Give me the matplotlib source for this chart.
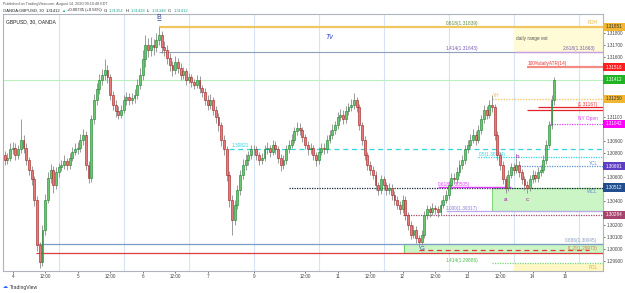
import matplotlib
matplotlib.use("Agg")
import matplotlib.pyplot as plt
import matplotlib.transforms as mtransforms
from matplotlib.patches import Rectangle

plt.rcParams["font.family"] = ["Liberation Sans", "DejaVu Sans"]

# GBPUSD hourly candles, x = trading hours since Aug 4 00:00 (weekend removed)
closes = [
    1.3074, 1.3076, 1.3083, 1.3084, 1.3078, 1.3083, 1.3091, 1.3084, 1.3074, 1.3066,
    1.3058, 1.3041, 1.3003, 1.2989, 1.3016, 1.3041, 1.3059, 1.3066, 1.3053, 1.3064,
    1.3068, 1.3070, 1.3073, 1.3070, 1.3076, 1.3081, 1.3083, 1.3084, 1.3091, 1.3095,
    1.3070, 1.3059, 1.3108, 1.3124, 1.3133, 1.3141, 1.3145, 1.3149, 1.3143, 1.3128,
    1.3120, 1.3115, 1.3112, 1.3116, 1.3124, 1.3127, 1.3124, 1.3126, 1.3128, 1.3137,
    1.3145, 1.3158, 1.3170, 1.3166, 1.3170, 1.3168, 1.3174, 1.3178, 1.3168, 1.3166,
    1.3159, 1.3153, 1.3149, 1.3156, 1.3151, 1.3145, 1.3148, 1.3141, 1.3143, 1.3139,
    1.3137, 1.3141, 1.3134, 1.3131, 1.3124, 1.3120, 1.3124, 1.3116, 1.3110, 1.3103,
    1.3091, 1.3083, 1.3062, 1.3041, 1.3024, 1.3037, 1.3049, 1.3062, 1.3070, 1.3074,
    1.3078, 1.3083, 1.3083, 1.3078, 1.3074, 1.3076, 1.3083, 1.3084, 1.3081, 1.3087,
    1.3083, 1.3076, 1.3070, 1.3074, 1.3083, 1.3087, 1.3091, 1.3098, 1.3101, 1.3099,
    1.3093, 1.3087, 1.3083, 1.3084, 1.3078, 1.3074, 1.3081, 1.3084, 1.3083, 1.3091,
    1.3095, 1.3099, 1.3103, 1.3110, 1.3112, 1.3108, 1.3115, 1.3118, 1.3120, 1.3124,
    1.3118, 1.3103, 1.3091, 1.3078, 1.3070, 1.3066, 1.3062, 1.3053, 1.3049, 1.3058,
    1.3053, 1.3049, 1.3051, 1.3045, 1.3041, 1.3037, 1.3033, 1.3041, 1.3028, 1.3020,
    1.3012, 1.3016, 1.3009, 1.3006, 1.3012, 1.3028, 1.3033, 1.3031, 1.3034, 1.3033,
    1.3031, 1.3037, 1.3041, 1.3045, 1.3053, 1.3059, 1.3058, 1.3064, 1.3070, 1.3074,
    1.3083, 1.3087, 1.3091, 1.3095, 1.3091, 1.3099, 1.3108, 1.3116, 1.3112, 1.3120,
    1.3118, 1.3095, 1.3078, 1.3070, 1.3058, 1.3051, 1.3062, 1.3068, 1.3066, 1.3070,
    1.3064, 1.3058, 1.3053, 1.3051, 1.3058, 1.3062, 1.3059, 1.3064, 1.3066, 1.3074,
    1.3087, 1.3103, 1.3124, 1.3141,
]
highs = [
    1.3082, 1.3080, 1.3088, 1.3089, 1.3088, 1.3087, 1.3108, 1.3095, 1.3088, 1.3077,
    1.3069, 1.3061, 1.3044, 1.3006, 1.3020, 1.3046, 1.3064, 1.3071, 1.3069, 1.3068,
    1.3072, 1.3074, 1.3078, 1.3076, 1.3080, 1.3085, 1.3088, 1.3089, 1.3096, 1.3100,
    1.3098, 1.3073, 1.3112, 1.3129, 1.3138, 1.3146, 1.3150, 1.3158, 1.3153, 1.3146,
    1.3132, 1.3124, 1.3119, 1.3120, 1.3128, 1.3131, 1.3130, 1.3130, 1.3133, 1.3142,
    1.3151, 1.3166, 1.3178, 1.3176, 1.3177, 1.3175, 1.3180, 1.3185, 1.3182, 1.3173,
    1.3170, 1.3163, 1.3157, 1.3161, 1.3159, 1.3155, 1.3152, 1.3151, 1.3147, 1.3146,
    1.3142, 1.3145, 1.3144, 1.3137, 1.3134, 1.3128, 1.3129, 1.3127, 1.3119, 1.3113,
    1.3106, 1.3095, 1.3086, 1.3065, 1.3045, 1.3041, 1.3053, 1.3066, 1.3075, 1.3079,
    1.3082, 1.3087, 1.3087, 1.3086, 1.3081, 1.3080, 1.3087, 1.3089, 1.3087, 1.3091,
    1.3090, 1.3086, 1.3079, 1.3078, 1.3087, 1.3091, 1.3096, 1.3102, 1.3106, 1.3105,
    1.3102, 1.3096, 1.3090, 1.3088, 1.3087, 1.3081, 1.3085, 1.3088, 1.3088, 1.3095,
    1.3099, 1.3104, 1.3107, 1.3114, 1.3117, 1.3116, 1.3119, 1.3122, 1.3125, 1.3130,
    1.3127, 1.3121, 1.3106, 1.3094, 1.3081, 1.3073, 1.3069, 1.3065, 1.3056, 1.3062,
    1.3061, 1.3056, 1.3055, 1.3054, 1.3048, 1.3044, 1.3040, 1.3045, 1.3044, 1.3031,
    1.3023, 1.3020, 1.3019, 1.3012, 1.3016, 1.3032, 1.3037, 1.3036, 1.3038, 1.3037,
    1.3036, 1.3041, 1.3045, 1.3049, 1.3057, 1.3063, 1.3063, 1.3068, 1.3074, 1.3078,
    1.3087, 1.3091, 1.3096, 1.3100, 1.3098, 1.3103, 1.3112, 1.3120, 1.3119, 1.3124,
    1.3128, 1.3121, 1.3098, 1.3081, 1.3073, 1.3061, 1.3066, 1.3072, 1.3072, 1.3076,
    1.3073, 1.3067, 1.3061, 1.3057, 1.3062, 1.3066, 1.3065, 1.3068, 1.3070, 1.3078,
    1.3091, 1.3107, 1.3128, 1.3143,
]
lows = [
    1.3070, 1.3071, 1.3073, 1.3079, 1.3074, 1.3075, 1.3080, 1.3080, 1.3070, 1.3062,
    1.3053, 1.3036, 1.2998, 1.2984, 1.2986, 1.3012, 1.3038, 1.3055, 1.3047, 1.3050,
    1.3060, 1.3065, 1.3067, 1.3066, 1.3067, 1.3073, 1.3078, 1.3079, 1.3081, 1.3087,
    1.3066, 1.3055, 1.3056, 1.3104, 1.3120, 1.3129, 1.3137, 1.3141, 1.3138, 1.3124,
    1.3116, 1.3110, 1.3108, 1.3109, 1.3113, 1.3120, 1.3120, 1.3121, 1.3122, 1.3125,
    1.3133, 1.3141, 1.3152, 1.3160, 1.3161, 1.3162, 1.3164, 1.3170, 1.3163, 1.3161,
    1.3154, 1.3148, 1.3144, 1.3146, 1.3147, 1.3141, 1.3142, 1.3137, 1.3138, 1.3135,
    1.3133, 1.3134, 1.3130, 1.3127, 1.3120, 1.3116, 1.3117, 1.3112, 1.3105, 1.3098,
    1.3086, 1.3078, 1.3057, 1.3035, 1.3012, 1.3020, 1.3033, 1.3045, 1.3058, 1.3066,
    1.3070, 1.3075, 1.3078, 1.3074, 1.3070, 1.3071, 1.3073, 1.3079, 1.3077, 1.3078,
    1.3079, 1.3072, 1.3065, 1.3067, 1.3071, 1.3080, 1.3084, 1.3088, 1.3095, 1.3095,
    1.3089, 1.3083, 1.3078, 1.3079, 1.3074, 1.3069, 1.3071, 1.3078, 1.3079, 1.3080,
    1.3088, 1.3092, 1.3096, 1.3100, 1.3107, 1.3104, 1.3105, 1.3112, 1.3115, 1.3117,
    1.3114, 1.3099, 1.3087, 1.3074, 1.3066, 1.3062, 1.3058, 1.3049, 1.3045, 1.3046,
    1.3049, 1.3045, 1.3046, 1.3041, 1.3037, 1.3033, 1.3029, 1.3030, 1.3024, 1.3016,
    1.3008, 1.3009, 1.3005, 1.3002, 1.3003, 1.3009, 1.3025, 1.3027, 1.3028, 1.3029,
    1.3027, 1.3028, 1.3034, 1.3038, 1.3042, 1.3050, 1.3054, 1.3055, 1.3061, 1.3067,
    1.3071, 1.3080, 1.3084, 1.3088, 1.3087, 1.3088, 1.3096, 1.3105, 1.3108, 1.3109,
    1.3114, 1.3091, 1.3074, 1.3066, 1.3054, 1.3047, 1.3048, 1.3059, 1.3062, 1.3063,
    1.3060, 1.3054, 1.3049, 1.3047, 1.3048, 1.3055, 1.3056, 1.3056, 1.3061, 1.3063,
    1.3071, 1.3084, 1.3100, 1.3120,
]
first_hour = -3
first_open = 1.3078

# time axis
tick_hours = [0, 12, 24, 36, 48, 60, 72, 89, 108, 120, 132, 144, 156, 168, 180, 192, 204]
tick_labels = ["4", "12:00", "5", "12:00", "6", "12:00", "7", "9", "12:00", "11",
               "12:00", "12", "12:00", "13", "12:00", "14", "16"]
session_breaks = [17, 41, 65, 89, 113, 137, 161, 185, 209]

# drawn levels
pdh = 1.31851
range_low = 1.31642
atr_level = 1.31516
last_close = 1.31412
yh = 1.31250
red_hi, red_lo = 1.31182, 1.31160
ny_open = 1.31042
cyan_dash = 1.30833
cyan_dot = 1.30767
ycl = 1.30691
wcl = 1.30512
box_low = 1.30317
maroon_dot = 1.30284
blue_line = 1.30042
red_line = 1.29967
green_dot = 1.29883
pdl_low = 1.29817

fig = plt.figure(figsize=(6.25, 2.93), dpi=100)
fig.patch.set_facecolor("white")
ax = fig.add_axes([3 / 625, 22 / 293, 600 / 625, 257 / 293])
ax.set_xlim(-3.58, 218.0)
ax.set_ylim(1.29817, 1.31958)

for h in session_breaks:
    ax.axvline(h, color="#d5e3f5", lw=0.8, zorder=0)

# annotation boxes
ax.add_patch(Rectangle((185, range_low), 40, pdh - range_low, color="#fffbd6", zorder=1))
ax.add_patch(Rectangle((177, box_low), 45, wcl - box_low, facecolor="#ccf5c6",
                       edgecolor="#7fd77a", lw=0.8, zorder=1))
ax.add_patch(Rectangle((144.5, red_line), 80, blue_line - red_line, facecolor="#ccf5c6",
                       edgecolor="#6bd36b", lw=0.8, zorder=1))
ax.add_patch(Rectangle((185, pdl_low), 40, green_dot - 0.0001 - pdl_low, color="#fff8c4", zorder=1))

# level lines
ax.hlines(pdh, 54, 218, color="#f0c75e", lw=1.6, zorder=2)
ax.hlines(range_low, 54, 218, color="#8e9ebd", lw=0.8, zorder=2)
ax.hlines(range_low - 0.00004, 185, 218, color="#c9a0e8", lw=1.0, zorder=2)
ax.hlines(atr_level, 190, 218, color="#f28b82", lw=1.6, zorder=2)
ax.axhline(last_close, color="#b8f0c0", lw=0.8, zorder=2)
ax.hlines(yh, 177, 218, color="#f5c76b", lw=1.0, ls=(0, (1, 1)), zorder=2)
ax.hlines(red_hi, 194, 218, color="#e0242a", lw=0.9, zorder=2)
ax.hlines(red_lo, 190, 218, color="#e0242a", lw=0.9, zorder=2)
ax.hlines(ny_open, 198, 218, color="#e040fb", lw=0.9, ls=(0, (1, 1)), zorder=2)
ax.hlines(cyan_dash, 80, 218, color="#2fd5e0", lw=0.9, ls=(0, (4, 3)), zorder=2)
ax.hlines(cyan_dot, 172, 218, color="#2fd5e0", lw=0.9, ls=(0, (1, 1)), zorder=2)
ax.hlines(ycl, 185, 218, color="#5b8fd6", lw=0.9, ls=(0, (1, 1)), zorder=2)
ax.hlines(wcl, 102, 218, color="#1a2540", lw=0.9, ls=(0, (1, 1)), zorder=2)
ax.hlines(wcl + 0.00004, 157, 184, color="#e040fb", lw=1.0, zorder=2)
ax.hlines(box_low, 160, 218, color="#b9a8ee", lw=0.9, zorder=2)
ax.hlines(maroon_dot, 144, 218, color="#a34a6a", lw=0.9, ls=(0, (1, 1)), zorder=2)
ax.hlines(blue_line, 8.6, 218, color="#7b9cc6", lw=0.9, zorder=2)
ax.hlines(red_line, 8.6, 218, color="#e0393e", lw=0.9, zorder=2)
ax.hlines(red_line + 0.00025, 150, 213, color="#e0393e", lw=0.9, ls=(0, (4, 3)), zorder=3)
ax.hlines(green_dot, 177, 218, color="#7bd67b", lw=0.9, ls=(0, (1, 1)), zorder=2)

# candles
opens = [first_open] + closes[:-1]
hours = list(range(first_hour, first_hour + len(closes)))
ax.vlines(hours, lows, highs, color="#8a8a8a", lw=0.6, zorder=4)
up_c = [h for h, o, c in zip(hours, opens, closes) if c >= o]
up_b = [min(o, c) for o, c in zip(opens, closes) if c >= o]
up_h = [max(abs(c - o), 0.00003) for o, c in zip(opens, closes) if c >= o]
dn_c = [h for h, o, c in zip(hours, opens, closes) if c < o]
dn_b = [min(o, c) for o, c in zip(opens, closes) if c < o]
dn_h = [max(abs(c - o), 0.00003) for o, c in zip(opens, closes) if c < o]
ax.bar(up_c, up_h, bottom=up_b, width=0.7, color="#6cc46f", edgecolor="#17802a", lw=0.4, zorder=5)
ax.bar(dn_c, dn_h, bottom=dn_b, width=0.7, color="#e77a7a", edgecolor="#9c1c1c", lw=0.4, zorder=5)

# labels on the chart
fs = 3.4
ax.text(54, 1.31925, "B", color="#2a3b9c", fontsize=5, ha="center", va="center", zorder=6)
ax.hlines(1.31905, 53.3, 54.8, color="#2a3b9c", lw=0.5, zorder=6)
ax.text(117, 1.31765, "Tv", color="#2a48c8", fontsize=5, style="italic", ha="center", va="center")
ax.text(186, 1.31755, "daily range est", color="#555555", fontsize=fs, va="center")
ax.text(160, 1.31875, "0.618(1.31839)", color="#5a8a3a", fontsize=fs, va="center")
ax.text(160, 1.31668, "1.414(1.31643)", color="#7a5ab0", fontsize=fs, va="center")
ax.text(215, 1.31668, "2.618(1.31663)", color="#7a5ab0", fontsize=fs, ha="right", va="center")
ax.text(216, 1.31885, "PDH", color="#e2b43c", fontsize=fs, ha="right", va="center")
ax.text(190, 1.31545, "100%dailyATR(14)", color="#e53935", fontsize=fs, va="center")
ax.text(177.5, 1.31280, "YH", color="#f0b84a", fontsize=fs, va="center")
ax.text(216, 1.31205, "(1.31167)", color="#e53935", fontsize=fs, ha="right", va="center")
ax.text(216, 1.31085, "NY Open", color="#e040fb", fontsize=fs, ha="right", va="center")
ax.text(81, 1.30860, "1.30821", color="#2fd5e0", fontsize=fs, va="center")
ax.text(172, 1.30790, "0.5(1.30744)", color="#2fd5e0", fontsize=fs, va="center")
ax.text(216, 1.30715, "YCL", color="#5b8fd6", fontsize=fs, ha="right", va="center")
ax.text(216, 1.30480, "WCL", color="#5b8fd6", fontsize=fs, ha="right", va="center")
ax.text(157, 1.30535, "0.618(1.30505)", color="#e040fb", fontsize=fs, va="center")
ax.text(160, 1.30340, "1.000(1.30317)", color="#8b7ad8", fontsize=fs, va="center")
ax.text(182, 1.30415, "a", color="#a020a0", fontsize=4.5, ha="center", va="center")
ax.text(186.5, 1.30775, "b", color="#a020a0", fontsize=4.5, ha="center", va="center")
ax.text(190, 1.30410, "c", color="#a020a0", fontsize=4.5, ha="center", va="center")
ax.text(151, 1.30005, "G", color="#2a48c8", fontsize=4.5, ha="center", va="center", zorder=6)
ax.text(216, 1.30068, "0.886(1.30045)", color="#8a9bc0", fontsize=fs, ha="right", va="center")
ax.text(216, 1.30005, "[1.2](1.29973)", color="#e57a3a", fontsize=fs, ha="right", va="center")
ax.text(160, 1.29905, "1.414(1.29886)", color="#4cbb4c", fontsize=fs, va="center")
ax.text(216, 1.29845, "PDL", color="#d4b030", fontsize=fs, ha="right", va="center")
ax.text(-2.5, 1.31890, "GBPUSD, 30, OANDA", color="#222222", fontsize=3.6, va="center")

# price labels on the right scale
axis_tags = [
    (pdh, "1.31851", "#f2b630", "#333333"),
    (atr_level, "1.31516", "#ff1f1f", "white"),
    (last_close, "1.31412", "#22b322", "white"),
    (yh, "1.31250", "#f2b630", "#333333"),
    (ny_open, "1.31042", "#ff00ff", "white"),
    (ycl, "1.30691", "#5e3fc4", "white"),
    (wcl, "1.30512", "#1f4f8f", "white"),
    (maroon_dot, "1.30284", "#a8456e", "white"),
]

# axes styling
for s in ax.spines.values():
    s.set_color("#b0b4bc")
    s.set_linewidth(0.8)
ax.set_xticks(tick_hours)
ax.set_xticklabels(tick_labels)
ax.yaxis.tick_right()
# like the scale itself, leave out the round prices hidden behind a tag
price_ticks = [round(1.299 + 0.001 * i, 3) for i in range(21)]
price_ticks = [p for p in price_ticks if all(abs(p - t[0]) > 0.0005 for t in axis_tags)]
ax.set_yticks(price_ticks)
ax.set_yticklabels(["%.5f" % p for p in price_ticks])
ax.tick_params(axis="both", labelsize=3.3, colors="#444444", length=1.5, width=0.5, pad=0.8)

blend = mtransforms.blended_transform_factory(ax.transAxes, ax.transData)
for price, label, bg, fg in axis_tags:
    ax.add_patch(Rectangle((1.0, price - 0.00034), 0.036, 0.00068, transform=blend,
                           facecolor=bg, edgecolor="none", clip_on=False, zorder=10))
    ax.text(1.018, price, label, transform=blend, color=fg, fontsize=3.3,
            ha="center", va="center", clip_on=False, zorder=11)

# header, drawn piece by piece so the parts never overlap
renderer = fig.canvas.get_renderer()


def text_row(x0, y0, pieces, size, weight="normal"):
    xpos = x0
    for txt, col in pieces:
        t = fig.text(xpos / 625, 1 - y0 / 293, txt, fontsize=size, color=col,
                     va="center", fontweight=weight)
        xpos += t.get_window_extent(renderer=renderer).width + 1.5


text_row(3, 4, [("Published on TradingView.com, August 14, 2020 09:16:48 EDT", "#555555")], 2.7)
text_row(3, 10.5, [("OANDA:GBPUSD, 30", "#222222"), ("1.31412", "#222222"),
                   ("\u25b2", "#26a69a"), ("+0.00735 (+0.56%)", "#222222"),
                   ("O:", "#222222"), ("1.31354", "#26a69a"),
                   ("H:", "#222222"), ("1.31428", "#26a69a"),
                   ("L:", "#222222"), ("1.31348", "#26a69a"),
                   ("C:", "#222222"), ("1.31412", "#26a69a")], 3.0)
text_row(3, 287, [("\u2601", "#2962ff"), ("TradingView", "#333333")], 3.6)

fig.savefig("out.png", dpi=100)
